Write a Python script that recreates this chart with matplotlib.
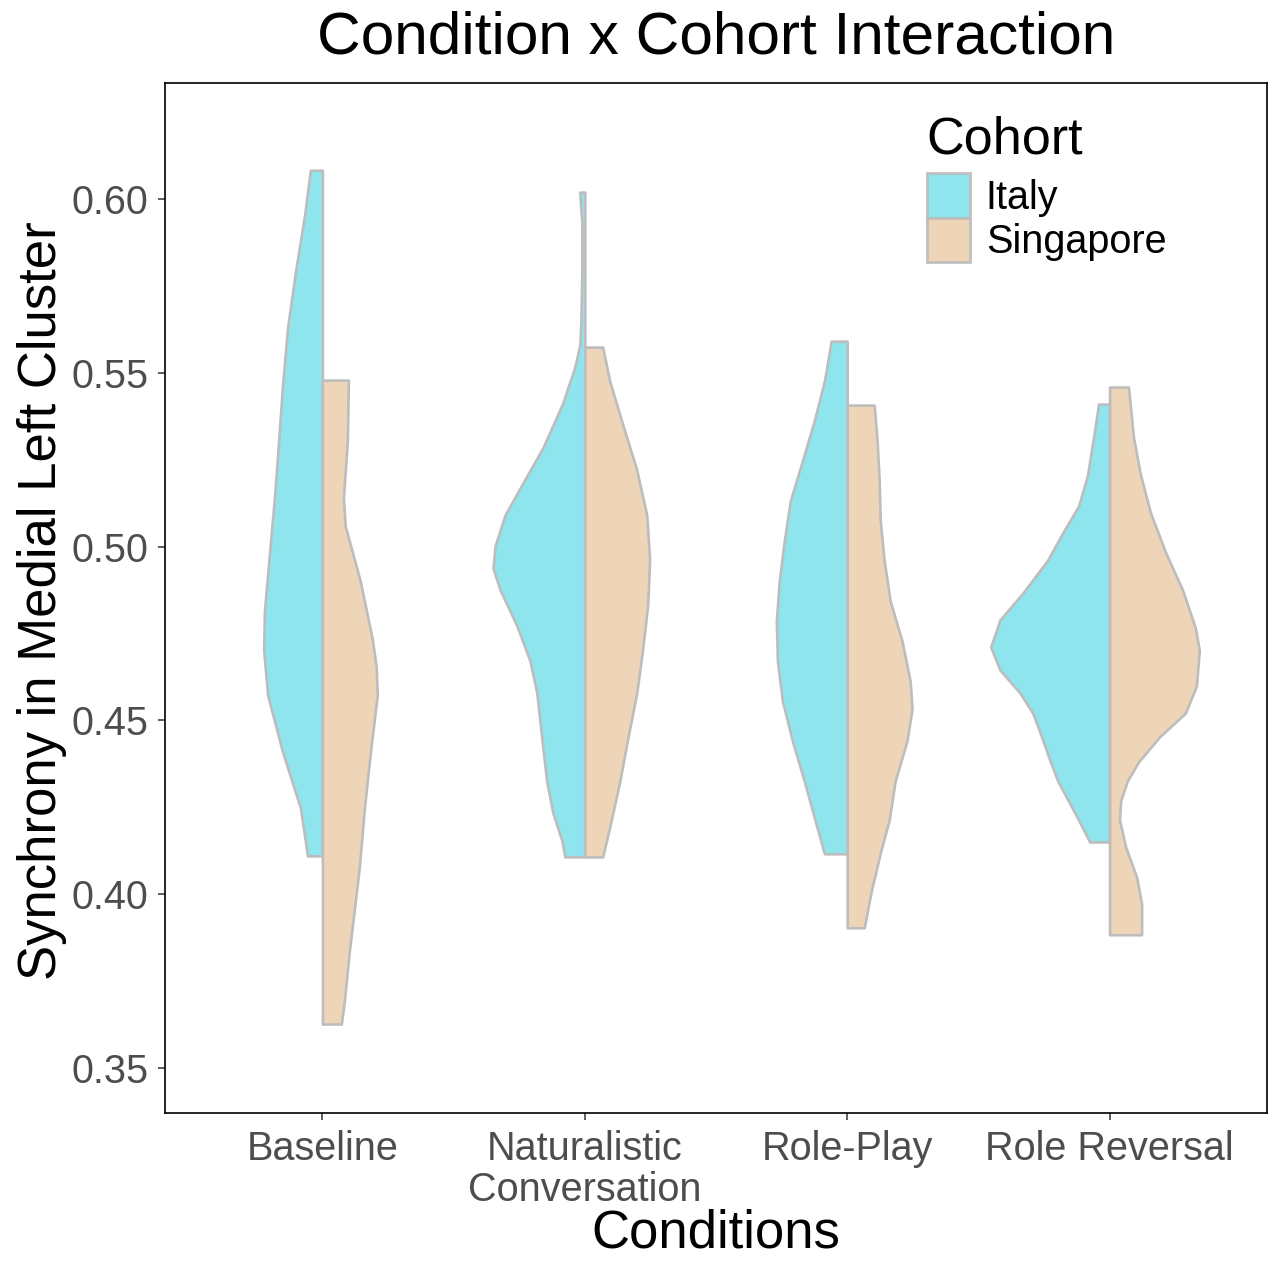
import matplotlib.pyplot as plt
from matplotlib.patches import Patch

plt.rcParams['font.family'] = ['Liberation Sans', 'DejaVu Sans']

# categories
conditions = ["Baseline", "Naturalistic\nConversation", "Role-Play", "Role Reversal"]
cohorts = ["Italy", "Singapore"]

# violin outlines: y = synchrony value, w = half width (x units)
baseline_italy_y = [0.6083, 0.5954, 0.5790, 0.5629, 0.5465, 0.5304, 0.5140, 0.4979,
                    0.4815, 0.4702, 0.4573, 0.4409, 0.4248, 0.4110]
baseline_italy_w = [0.046, 0.068, 0.103, 0.133, 0.152, 0.167, 0.183, 0.202,
                    0.221, 0.224, 0.209, 0.152, 0.084, 0.057]
baseline_sing_y = [0.5479, 0.5304, 0.5140, 0.5059, 0.4898, 0.4734, 0.4654, 0.4573,
                   0.4409, 0.4248, 0.4081, 0.3983, 0.3839, 0.3695, 0.3626]
baseline_sing_w = [0.099, 0.095, 0.080, 0.087, 0.145, 0.190, 0.205, 0.209,
                   0.183, 0.160, 0.141, 0.126, 0.103, 0.084, 0.072]

natural_italy_y = [0.6020, 0.5928, 0.5799, 0.5646, 0.5580, 0.5517, 0.5413, 0.5284,
                   0.5183, 0.5091, 0.5002, 0.4938, 0.4875, 0.4772, 0.4671, 0.4579,
                   0.4449, 0.4323, 0.4234, 0.4153, 0.4107]
natural_italy_w = [0.019, 0.011, 0.011, 0.015, 0.019, 0.038, 0.084, 0.160,
                   0.236, 0.304, 0.342, 0.350, 0.323, 0.259, 0.209, 0.183,
                   0.164, 0.145, 0.122, 0.087, 0.076]
natural_sing_y = [0.5574, 0.5476, 0.5350, 0.5220, 0.5091, 0.4964, 0.4835, 0.4708,
                  0.4579, 0.4449, 0.4323, 0.4193, 0.4107]
natural_sing_w = [0.068, 0.095, 0.145, 0.198, 0.236, 0.247, 0.240, 0.221,
                  0.198, 0.164, 0.133, 0.095, 0.068]

roleplay_italy_y = [0.5591, 0.5476, 0.5361, 0.5246, 0.5131, 0.5016, 0.4901, 0.4786,
                    0.4671, 0.4556, 0.4441, 0.4326, 0.4211, 0.4116]
roleplay_italy_w = [0.061, 0.087, 0.126, 0.171, 0.217, 0.240, 0.259, 0.270,
                    0.266, 0.247, 0.209, 0.164, 0.122, 0.087]
roleplay_sing_y = [0.5407, 0.5304, 0.5189, 0.5074, 0.4959, 0.4843, 0.4728, 0.4613,
                   0.4533, 0.4441, 0.4326, 0.4213, 0.4118, 0.4006, 0.3903]
roleplay_sing_w = [0.103, 0.114, 0.122, 0.126, 0.141, 0.164, 0.209, 0.240,
                   0.247, 0.228, 0.183, 0.160, 0.126, 0.091, 0.065]

reversal_italy_y = [0.5410, 0.5315, 0.5206, 0.5117, 0.5039, 0.4961, 0.4866, 0.4789,
                    0.4711, 0.4645, 0.4579, 0.4521, 0.4452, 0.4386, 0.4326, 0.4213, 0.4150]
reversal_italy_w = [0.042, 0.061, 0.084, 0.118, 0.179, 0.236, 0.331, 0.418,
                    0.453, 0.418, 0.342, 0.293, 0.259, 0.228, 0.198, 0.118, 0.076]
reversal_sing_y = [0.5459, 0.5315, 0.5206, 0.5097, 0.4984, 0.4875, 0.4766, 0.4702,
                   0.4599, 0.4521, 0.4452, 0.4380, 0.4326, 0.4268, 0.4213, 0.4136,
                   0.4049, 0.3972, 0.3883]
reversal_sing_w = [0.072, 0.091, 0.118, 0.156, 0.213, 0.278, 0.327, 0.342,
                   0.331, 0.289, 0.190, 0.110, 0.068, 0.042, 0.038, 0.061,
                   0.103, 0.122, 0.122]

italy_y = [baseline_italy_y, natural_italy_y, roleplay_italy_y, reversal_italy_y]
italy_w = [baseline_italy_w, natural_italy_w, roleplay_italy_w, reversal_italy_w]
sing_y = [baseline_sing_y, natural_sing_y, roleplay_sing_y, reversal_sing_y]
sing_w = [baseline_sing_w, natural_sing_w, roleplay_sing_w, reversal_sing_w]

yticks = [0.35, 0.40, 0.45, 0.50, 0.55, 0.60]

col_italy = '#8EE5EE'
col_sing = '#EED5B7'
col_edge = '#BDBDBD'

W, H = 1269, 1261
fig = plt.figure(figsize=(W / 100, H / 100), dpi=100)
ax = fig.add_axes([165 / W, 1 - 1113 / H, (1267 - 165) / W, (1113 - 83) / H])

for i in range(len(conditions)):
    c = i + 1
    left = [c - w for w in italy_w[i]]
    ax.fill_betweenx(italy_y[i], left, c, facecolor=col_italy,
                     edgecolor=col_edge, linewidth=1.9)
    right = [c + w for w in sing_w[i]]
    ax.fill_betweenx(sing_y[i], c, right, facecolor=col_sing,
                     edgecolor=col_edge, linewidth=1.9)

ax.set_xlim(0.4, 4.6)
ax.set_ylim(0.337, 0.6334)
ax.set_xticks([1, 2, 3, 4])
ax.set_xticklabels(conditions, linespacing=1.1)
ax.set_yticks(yticks)
ax.set_yticklabels(['%.2f' % v for v in yticks])
ax.tick_params(length=5, width=1.1, color='#333333', labelsize=28.5,
               labelcolor='#4D4D4D', pad=7)
for s in ax.spines.values():
    s.set_linewidth(1.2)
    s.set_color('black')

fig.text(716 / W, 1 - 38 / H, 'Condition x Cohort Interaction',
         ha='center', va='center', fontsize=43.5)
fig.text(42 / W, 1 - 601 / H, 'Synchrony in Medial Left Cluster',
         ha='center', va='center', rotation=90, fontsize=38)
fig.text(716 / W, 1 - 1233 / H, 'Conditions', ha='center', va='center', fontsize=38)

handles = [Patch(facecolor=col_italy, edgecolor=col_edge, linewidth=1.9),
           Patch(facecolor=col_sing, edgecolor=col_edge, linewidth=1.9)]
leg = ax.legend(handles, cohorts, title='Cohort', loc='upper left',
                bbox_to_anchor=(903 / W, 1 - 92 / H),
                bbox_transform=fig.transFigure, frameon=False,
                fontsize=28.5, title_fontsize=37.5, alignment='left',
                handlelength=1.09, handleheight=1.35, labelspacing=0.0,
                handletextpad=0.4, borderpad=0.6, borderaxespad=0)
# gap between the legend title and the keys
leg._legend_box.sep = 6

fig.savefig('out.png', dpi=100)
